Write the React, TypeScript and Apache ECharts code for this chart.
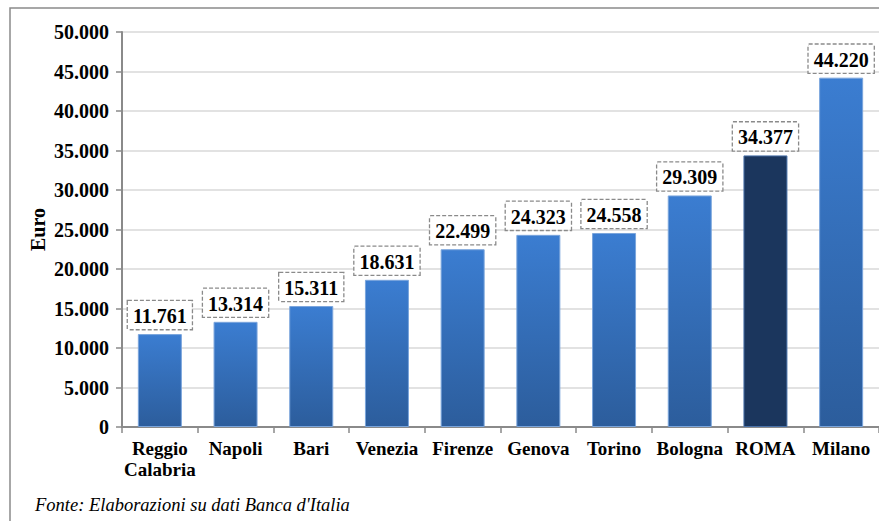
import React, { useEffect, useRef } from "react";
import * as echarts from "echarts";

const categories = ["Reggio\nCalabria", "Napoli", "Bari", "Venezia", "Firenze", "Genova", "Torino", "Bologna", "ROMA", "Milano"];
const values = [11761, 13314, 15311, 18631, 22499, 24323, 24558, 29309, 34377, 44220];
const highlighted = "ROMA";
const yTicks = { min: 0, max: 50000, interval: 5000 };
const axisName = "Euro";
const sourceNote = "Fonte: Elaborazioni su dati Banca d'Italia";

const fmt = (v: number) => {
  const s = Math.round(v).toString();
  return s.replace(/\B(?=(\d{3})+(?!\d))/g, ".");
};

const FONT = "Liberation Serif";

export default function App() {
  const ref = useRef<HTMLDivElement>(null);
  useEffect(() => {
    if (!ref.current) return;
    const chart = echarts.init(ref.current, undefined, { renderer: "svg" });
    const blueGrad = new echarts.graphic.LinearGradient(0, 0, 0, 1, [
      { offset: 0, color: "#3b7dd1" },
      { offset: 1, color: "#2c5d9c" },
    ]);
    chart.setOption({
      animation: false,
      backgroundColor: "#ffffff",
      textStyle: { fontFamily: FONT },
      grid: { left: 122, top: 32, width: 760, height: 395, containLabel: false },
      xAxis: {
        type: "category",
        data: categories,
        axisLine: { lineStyle: { color: "#8a8a8a", width: 2 } },
        axisTick: { show: true, length: 6, lineStyle: { color: "#8a8a8a", width: 1.5 } },
        axisLabel: {
          fontFamily: FONT,
          fontWeight: "bold",
          fontSize: 19,
          color: "#000",
          margin: 11,
          lineHeight: 21,
          interval: 0,
        },
      },
      yAxis: {
        type: "value",
        min: yTicks.min,
        max: yTicks.max,
        interval: yTicks.interval,
        name: axisName,
        nameLocation: "middle",
        nameGap: 74,
        nameMoveOverlap: false,
        nameRotate: 90,
        nameTextStyle: { fontFamily: FONT, fontWeight: "bold", fontSize: 20, color: "#000" },
        axisLine: { show: true, lineStyle: { color: "#8a8a8a", width: 2 } },
        axisTick: { show: true, length: 6, lineStyle: { color: "#8a8a8a", width: 1.5 } },
        splitLine: { lineStyle: { color: "#d9d9d9", width: 1.5 } },
        axisLabel: {
          fontFamily: FONT,
          fontWeight: "bold",
          fontSize: 20,
          color: "#000",
          margin: 13,
          formatter: (v: number) => fmt(v),
        },
      },
      series: [
        {
          type: "bar",
          barWidth: 44,
          data: values.map((v, i) => ({
            value: v,
            itemStyle:
              categories[i] === highlighted
                ? { color: "#1b365d", borderColor: "#4a72aa", borderWidth: 1 }
                : { color: blueGrad, borderColor: "#7aa5dc", borderWidth: 1 },
          })),
          label: {
            show: true,
            position: "top",
            distance: 5,
            fontFamily: FONT,
            fontWeight: "bold",
            fontSize: 20,
            color: "#000",
            borderColor: "#8a8a8a",
            borderWidth: 1.3,
            borderType: [4, 2],
            padding: [5, 5, 3, 5],
            backgroundColor: "#fff",
            formatter: (p: any) => fmt(p.value),
          },
        },
      ],
      graphic: [
        {
          type: "rect",
          shape: { x: 10, y: 8, width: 900, height: 600 },
          style: { fill: "none", stroke: "#8a8a8a", lineWidth: 1.5 },
          silent: true,
        },
        {
          type: "text",
          x: 35,
          y: 505,
          style: {
            text: sourceNote,
            fontFamily: FONT,
            fontStyle: "italic",
            fontSize: 18.5,
            fill: "#000",
            verticalAlign: "middle",
          },
        },
      ],
    });
    return () => chart.dispose();
  }, []);
  return (
    <div
      ref={ref}
      style={{ position: "absolute", left: 0, top: 0, width: 879, height: 521 }}
    />
  );
}
